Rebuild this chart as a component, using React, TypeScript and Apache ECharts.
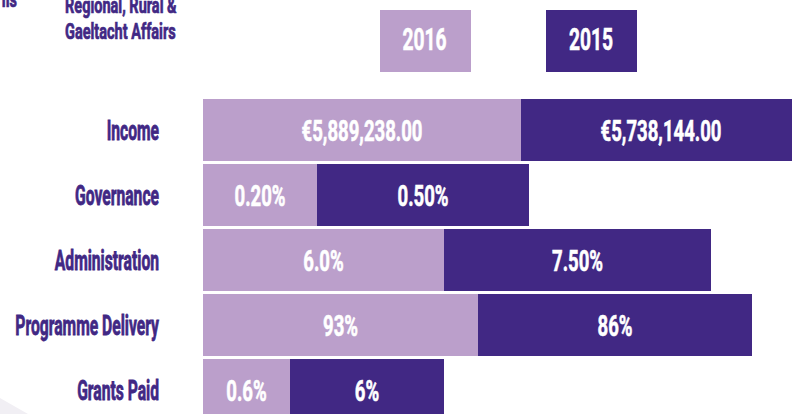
import React, { useEffect, useRef } from "react";
import * as echarts from "echarts";

const categories = ["Income", "Governance", "Administration", "Programme Delivery", "Grants Paid"];
// bar lengths as drawn in the infographic (display units)
const barLen2016 = [318, 114, 241, 275, 87];
const barLen2015 = [280, 212, 267, 274, 154];
const labels2016 = ["€5,889,238.00", "0.20%", "6.0%", "93%", "0.6%"];
const labels2015 = ["€5,738,144.00", "0.50%", "7.50%", "86%", "6%"];
const seriesNames = ["2016", "2015"];

const LIGHT = "#BB9FCB";
const DARK = "#412884";
const FONT = 'Roboto, "DejaVu Sans Condensed", sans-serif';

export default function App() {
  const ref = useRef<HTMLDivElement>(null);
  useEffect(() => {
    if (!ref.current) return;
    const chart = echarts.init(ref.current, undefined, { renderer: "svg" });

    const catData = categories.map((c, i) => [0, i]);
    const valueLabelData: any[] = [];
    categories.forEach((c, i) => {
      valueLabelData.push([barLen2016[i] / 2, i, 0]);
      valueLabelData.push([barLen2016[i] + barLen2015[i] / 2, i, 1]);
    });

    chart.setOption({
      animation: false,
      backgroundColor: "#ffffff",
      grid: { left: 203, right: 0, top: 97.5, height: 325, outerBoundsMode: "none", containLabel: false },
      xAxis: { type: "value", min: 0, max: 589, show: false },
      yAxis: {
        type: "category",
        data: categories,
        inverse: true,
        axisLine: { show: false },
        axisTick: { show: false },
        axisLabel: { show: false },
      },
      graphic: [
        {
          type: "polygon",
          shape: { points: [[0, 398], [28, 414], [0, 414]] },
          style: { fill: "#f1eff4" },
          silent: true,
        },
        {
          type: "text",
          x: 17,
          y: 11,
          scaleX: 0.66,
          style: {
            text: "ils", fill: DARK, font: `bold 22px ${FONT}`, align: "right", verticalAlign: "bottom",
            stroke: DARK, lineWidth: 0.7,
          },
        },
        {
          type: "text",
          x: 65,
          y: -7,
          scaleX: 0.66,
          style: {
            text: "Regional, Rural &\nGaeltacht Affairs",
            fill: DARK,
            font: `bold 22px ${FONT}`,
            lineHeight: 26,
            align: "left",
            verticalAlign: "top",
            stroke: DARK,
            lineWidth: 0.7,
          },
        },
        {
          type: "rect",
          shape: { x: 380, y: 10, width: 91, height: 62 },
          style: { fill: LIGHT },
        },
        {
          type: "text",
          x: 424.5,
          y: 39,
          scaleX: 0.62,
          style: {
            text: seriesNames[0], fill: "#fff", font: `bold 31px ${FONT}`, align: "center", verticalAlign: "middle",
            stroke: "#fff", lineWidth: 0.6,
          },
        },
        {
          type: "rect",
          shape: { x: 546, y: 10, width: 91, height: 62 },
          style: { fill: DARK },
        },
        {
          type: "text",
          x: 591,
          y: 39,
          scaleX: 0.62,
          style: {
            text: seriesNames[1], fill: "#fff", font: `bold 31px ${FONT}`, align: "center", verticalAlign: "middle",
            stroke: "#fff", lineWidth: 0.6,
          },
        },
      ],
      series: [
        {
          name: seriesNames[0],
          type: "bar",
          stack: "total",
          barWidth: 62,
          data: barLen2016,
          itemStyle: { color: LIGHT },
          z: 2,
        },
        {
          name: seriesNames[1],
          type: "bar",
          stack: "total",
          barWidth: 62,
          data: barLen2015,
          itemStyle: { color: DARK },
          z: 2,
        },
        {
          name: "categoryLabels",
          type: "custom",
          data: catData,
          encode: { x: 0, y: 1 },
          clip: false,
          silent: true,
          z: 10,
          renderItem: (params: any, api: any) => {
            const idx = api.value(1);
            const p = api.coord([0, idx]);
            return {
              type: "text",
              x: p[0] - 44,
              y: p[1] + 1,
              scaleX: 0.58,
              style: {
                text: categories[idx],
                fill: DARK,
                font: `bold 27px ${FONT}`,
                align: "right",
                verticalAlign: "middle",
                stroke: DARK,
                lineWidth: 0.8,
              },
            };
          },
        },
        {
          name: "valueLabels",
          type: "custom",
          data: valueLabelData,
          encode: { x: 0, y: 1 },
          clip: false,
          silent: true,
          z: 10,
          renderItem: (params: any, api: any) => {
            const idx = api.value(1);
            const s = api.value(2);
            const p = api.coord([api.value(0), idx]);
            return {
              type: "text",
              x: p[0],
              y: p[1] + 1,
              scaleX: 0.64,
              z2: 100,
              style: {
                text: s === 0 ? labels2016[idx] : labels2015[idx],
                fill: "#ffffff",
                font: `bold 29px ${FONT}`,
                align: "center",
                verticalAlign: "middle",
                stroke: "#ffffff",
                lineWidth: 0.6,
              },
            };
          },
        },
      ],
    });
    return () => chart.dispose();
  }, []);
  return (
    <div style={{ position: "fixed", left: 0, top: 0, width: 792, height: 414, overflow: "hidden", background: "#fff" }}>
      <div ref={ref} style={{ width: 792, height: 440 }} />
    </div>
  );
}
